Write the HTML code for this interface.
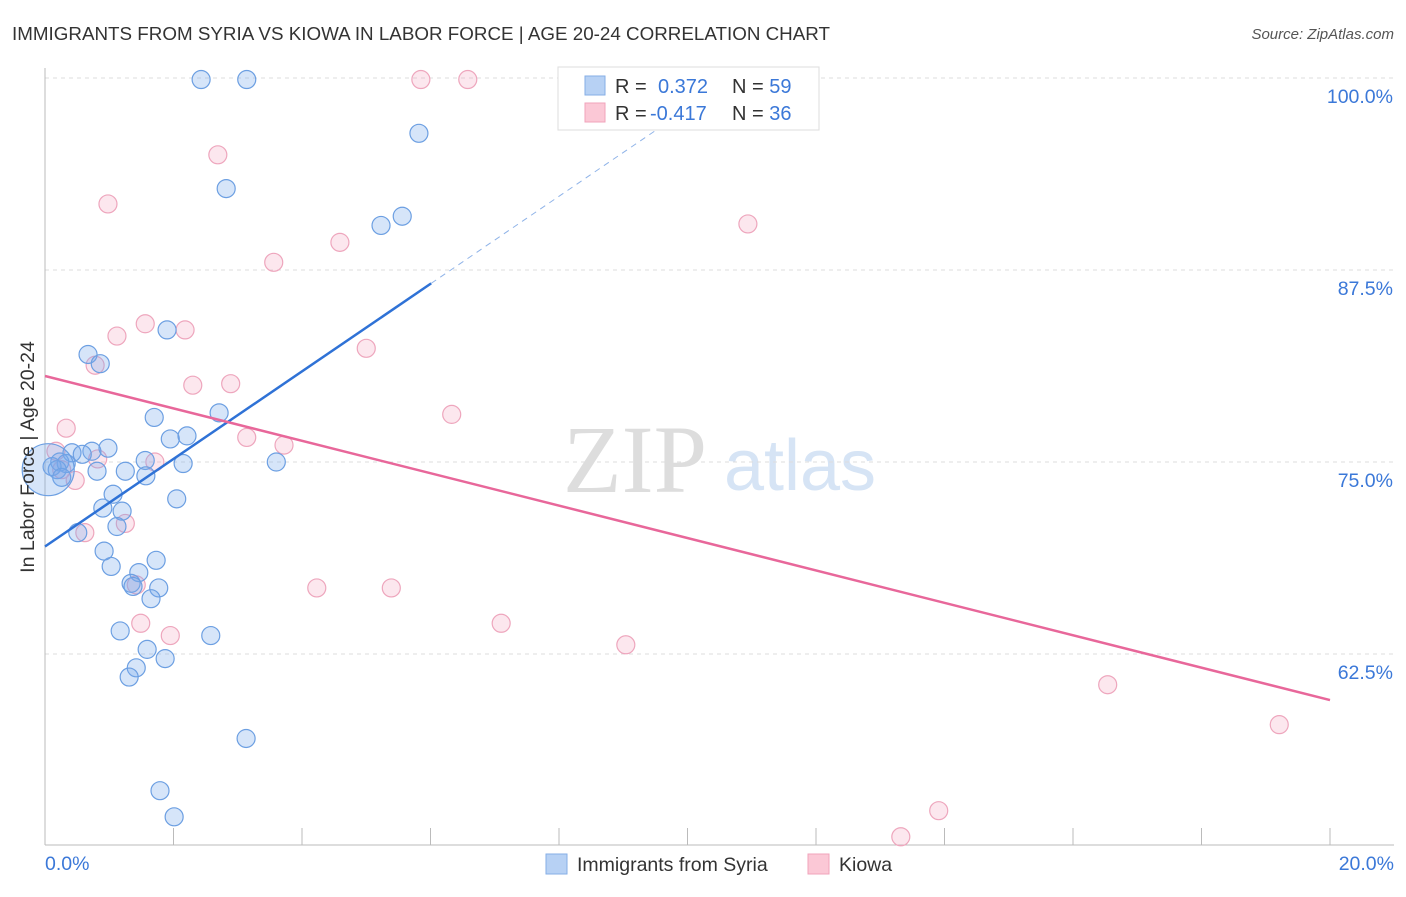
<!DOCTYPE html>
<html><head><meta charset="utf-8"><style>
body{margin:0;background:#fff;font-family:"Liberation Sans",sans-serif;}
</style></head><body>
<svg id="chart" width="1406" height="892" xmlns="http://www.w3.org/2000/svg">
<text x="12" y="40" font-size="18" fill="#333" textLength="818" lengthAdjust="spacingAndGlyphs">IMMIGRANTS FROM SYRIA VS KIOWA IN LABOR FORCE | AGE 20-24 CORRELATION CHART</text>
<text x="1394" y="39" font-size="15" fill="#555" font-style="italic" text-anchor="end">Source: ZipAtlas.com</text>
<text x="635" y="492" font-size="96" fill="#ddd" font-family="Liberation Serif,serif" text-anchor="middle">ZIP</text>
<text x="800" y="490" font-size="72" fill="#d6e4f5" text-anchor="middle">atlas</text>
<g id="grid"></g>
<g id="axes"></g>
<g id="marks"></g>
<text transform="translate(34,457) rotate(-90)" font-size="19.5" fill="#333" text-anchor="middle">In Labor Force | Age 20-24</text>
<text x="45" y="870" font-size="19.5" fill="#3b78d8">0.0%</text>
<text x="1394" y="870" font-size="19.5" fill="#3b78d8" text-anchor="end">20.0%</text>
<g>
<rect x="558" y="67" width="261" height="63" fill="#fff" stroke="#ddd"/>
<rect x="585" y="76" width="20" height="19" fill="#b7d1f4" stroke="#86aee6"/>
<rect x="585" y="103" width="20" height="19" fill="#fbc8d6" stroke="#f0a3bb"/>
<text x="615" y="93" font-size="20" fill="#333">R = <tspan fill="#3b78d8" x="658">0.372</tspan><tspan fill="#333" x="732">N = </tspan><tspan fill="#3b78d8">59</tspan></text>
<text x="615" y="120" font-size="20" fill="#333">R = <tspan fill="#3b78d8" x="650">-0.417</tspan><tspan fill="#333" x="732">N = </tspan><tspan fill="#3b78d8">36</tspan></text>
</g>
<g>
<rect x="546" y="854" width="21" height="20" fill="#b7d1f4" stroke="#86aee6"/>
<text x="577" y="871" font-size="19.5" fill="#333">Immigrants from Syria</text>
<rect x="808" y="854" width="21" height="20" fill="#fbc8d6" stroke="#f0a3bb"/>
<text x="839" y="871" font-size="19.5" fill="#333">Kiowa</text>
</g>
</svg>
<script>
const yTicks=[100,87.5,75,62.5];
const yTickLabels=["100.0%","87.5%","75.0%","62.5%"];
const xTickVals=[0,2,4,6,8,10,12,14,16,18,20];
const syriaX=[2.43,3.14,5.82,2.82,5.56,5.23,1.90,0.67,0.86,1.70,2.71,1.95,2.21,0.98,0.73,0.42,0.58,0.23,0.33,0.11,0.19,0.26,0.81,1.25,1.56,2.15,1.57,3.60,1.06,2.05,0.90,1.20,1.12,0.51,0.92,1.73,1.03,1.46,1.34,1.37,1.77,1.65,1.17,2.58,1.59,1.87,1.42,1.31,3.13,1.79,2.01,0.05];
const syriaY=[99.9,99.9,96.4,92.8,91.0,90.4,83.6,82.0,81.4,77.9,78.2,76.5,76.7,75.9,75.7,75.6,75.5,75.0,74.9,74.7,74.5,74.0,74.4,74.4,75.1,74.9,74.1,75.0,72.9,72.6,72.0,71.8,70.8,70.4,69.2,68.6,68.2,67.8,67.1,66.9,66.8,66.1,64.0,63.7,62.8,62.2,61.6,61.0,57.0,53.6,51.9,74.5];
const kiowaX=[5.85,6.58,2.69,0.98,10.94,3.56,4.59,1.56,2.18,1.12,5.00,0.78,2.30,2.89,6.33,0.33,3.14,3.72,1.71,0.82,0.17,0.26,0.47,1.25,0.62,1.42,4.23,5.39,1.49,1.95,7.10,9.04,16.54,19.21,13.91,13.32];
const kiowaY=[99.9,99.9,95.0,91.8,90.5,88.0,89.3,84.0,83.6,83.2,82.4,81.3,80.0,80.1,78.1,77.2,76.6,76.1,75.0,75.2,75.7,74.5,73.8,71.0,70.4,67.0,66.8,66.8,64.5,63.7,64.5,63.1,60.5,57.9,52.3,50.6];
const syriaTrend=[69.5,2.85];   // intercept, slope
const kiowaTrend=[80.6,-1.055];
const X=v=>45+v/20*1285;
const Y=v=>78+(100-v)/12.5*192;
const NS="http://www.w3.org/2000/svg";
function mk(parent,tag,attrs){const e=document.createElementNS(NS,tag);for(const k in attrs)e.setAttribute(k,attrs[k]);document.getElementById(parent).appendChild(e);return e;}
yTicks.forEach((t,i)=>{
 const l=mk('grid','line',{x1:45,x2:1394,y1:Y(t),y2:Y(t),stroke:'#ddd','stroke-dasharray':'4,4'});
 
 
 const tx=mk('grid','text',{x:1393,y:Y(t)+25,'font-size':19.5,fill:'#3b78d8','text-anchor':'end'});
 tx.textContent=yTickLabels[i];
 
 
});
const ya=mk('axes','line',{x1:45,x2:45,y1:68,y2:845,stroke:'#bbb'});


const xa=mk('axes','line',{x1:45,x2:1394,y1:845,y2:845,stroke:'#bbb'});


xTickVals.forEach(v=>{
 const t=mk('axes','line',{x1:X(v),x2:X(v),y1:828,y2:845,stroke:'#bbb'});
 
 
});
function dot(x,y,r,fill,stroke,name){
 const c=mk('marks','circle',{cx:X(x),cy:Y(y),r:r,fill:fill,stroke:stroke,'stroke-width':1.2});
 
 
}
kiowaX.forEach((x,i)=>dot(x,kiowaY[i],9,'rgba(244,160,188,0.25)','#eea6bd','kiowa-point'));
syriaX.forEach((x,i)=>dot(x,syriaY[i],i==syriaX.length-1?26:9,'rgba(120,170,235,0.3)','#6c9fe2','syria-point'));
const x1=6.01,x2=(100-syriaTrend[0])/syriaTrend[1];
const bl=mk('marks','line',{x1:X(0),y1:Y(syriaTrend[0]),x2:X(x1),y2:Y(syriaTrend[0]+syriaTrend[1]*x1),stroke:'#2f72d6','stroke-width':2.5});


const bd=mk('marks','line',{x1:X(x1),y1:Y(syriaTrend[0]+syriaTrend[1]*x1),x2:X(x2),y2:Y(100),stroke:'#8fb3e8','stroke-width':1,'stroke-dasharray':'6,5'});


const pl=mk('marks','line',{x1:X(0),y1:Y(kiowaTrend[0]),x2:X(20),y2:Y(kiowaTrend[0]+kiowaTrend[1]*20),stroke:'#e8679a','stroke-width':2.5});


</script>
</body></html>
